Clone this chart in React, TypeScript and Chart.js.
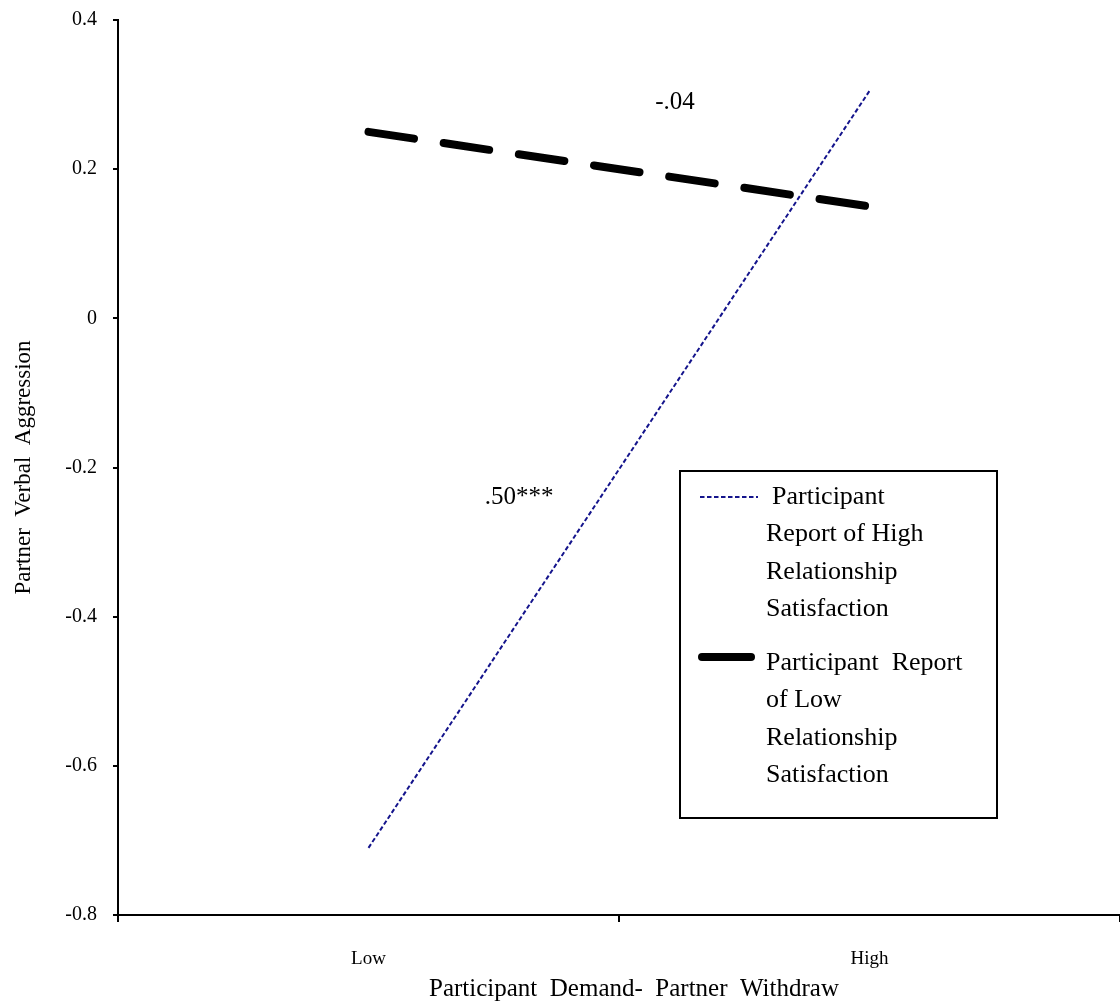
import React, { useEffect, useRef } from "react";
import { Chart, registerables } from "chart.js";

Chart.register(...registerables);

const categories = ["Low", "High"];
const highSatisfaction = [-0.71, 0.305];
const lowSatisfaction = [0.25, 0.15];
const highLabelLines = ["Participant", "Report of High", "Relationship", "Satisfaction"];
const lowLabelLines = ["Participant  Report", "of Low", "Relationship", "Satisfaction"];
const slopeLabels = ["-.04", ".50***"];
const yTitle = "Partner  Verbal  Aggression";
const xTitle = "Participant  Demand-  Partner  Withdraw";

const FONT = "'Liberation Serif', 'Times New Roman', serif";

const overlayPlugin = {
  id: "overlay",
  afterDraw(chart: any) {
    const ctx = chart.ctx;
    const xs = chart.scales.x;
    const ys = chart.scales.y;
    ctx.save();
    ctx.fillStyle = "#000";
    // x-axis title
    ctx.font = `25px ${FONT}`;
    ctx.textAlign = "center";
    ctx.textBaseline = "middle";
    ctx.fillText(xTitle, (xs.left + xs.right) / 2 + 15, 989);

    // slope annotations, anchored to data coordinates
    const xMid = (xs.getPixelForValue(0) + xs.getPixelForValue(1)) / 2;
    ctx.fillText(slopeLabels[0], xMid + 56, ys.getPixelForValue(0.29));
    ctx.fillText(slopeLabels[1], xMid - 100, ys.getPixelForValue(-0.24));

    // legend box
    const bx = 680, by = 471, bw = 317, bh = 347;
    ctx.strokeStyle = "#000";
    ctx.lineWidth = 2;
    ctx.strokeRect(bx, by, bw, bh);

    const ds0 = chart.data.datasets[0];
    const ds1 = chart.data.datasets[1];
    ctx.font = `26px ${FONT}`;
    ctx.textAlign = "left";
    ctx.textBaseline = "middle";
    const lh = 37.5;
    ctx.beginPath();
    ctx.setLineDash(ds0.borderDash);
    ctx.strokeStyle = ds0.borderColor;
    ctx.lineWidth = ds0.borderWidth;
    ctx.moveTo(700, 497);
    ctx.lineTo(758, 497);
    ctx.stroke();
    highLabelLines.forEach((t, i) => {
      ctx.fillText(t, i === 0 ? 772 : 766, 497 + i * lh);
    });
    ctx.beginPath();
    ctx.setLineDash([]);
    ctx.lineCap = "round";
    ctx.strokeStyle = ds1.borderColor;
    ctx.lineWidth = ds1.borderWidth;
    ctx.moveTo(702, 657);
    ctx.lineTo(751, 657);
    ctx.stroke();
    lowLabelLines.forEach((t, i) => {
      ctx.fillText(t, 766, 663 + i * lh);
    });
    ctx.restore();
  },
};

export default function App() {
  const ref = useRef<HTMLCanvasElement>(null);
  useEffect(() => {
    if (!ref.current) return;
    const chart = new Chart(ref.current, {
      type: "line",
      data: {
        labels: categories,
        datasets: [
          {
            label: "Participant Report of High Relationship Satisfaction",
            data: highSatisfaction,
            borderColor: "#14148c",
            borderWidth: 2,
            borderDash: [4.5, 2.5],
            pointRadius: 0,
            fill: false,
          },
          {
            label: "Participant Report of Low Relationship Satisfaction",
            data: lowSatisfaction,
            borderColor: "#000000",
            borderWidth: 8,
            borderDash: [46, 30],
            borderCapStyle: "round",
            pointRadius: 0,
            fill: false,
          },
        ],
      },
      options: {
        animation: false,
        responsive: false,
        layout: { padding: { top: 20, right: 0, left: 0, bottom: 0 } },
        plugins: { legend: { display: false }, tooltip: { enabled: false } },
        scales: {
          x: {
            type: "category",
            offset: true,
            grid: { offset: true, drawOnChartArea: false, drawTicks: true, tickLength: 7, color: "#000", lineWidth: 2 },
            border: { display: true, color: "#000", width: 2 },
            ticks: { color: "#000", font: { family: FONT, size: 19 }, padding: 26 },
            title: { display: false, text: xTitle },
            afterFit(scale: any) {
              scale.height = 91;
              scale.paddingLeft = 0;
              scale.paddingRight = 0;
            },
          },
          y: {
            min: -0.8,
            max: 0.4,
            ticks: {
              stepSize: 0.2,
              color: "#000",
              font: { family: FONT, size: 20 },
              padding: 16,
              callback: (v: any) => String(parseFloat(Number(v).toFixed(1))),
            },
            grid: { drawOnChartArea: false, drawTicks: true, tickLength: 5, color: "#000", lineWidth: 2 },
            border: { display: true, color: "#000", width: 2 },
            title: { display: true, text: yTitle, color: "#000", font: { family: FONT, size: 23 }, padding: { top: 10, bottom: 0 } },
            afterFit(scale: any) {
              scale.width = 118;
              scale.paddingTop = 0;
              scale.paddingBottom = 0;
            },
          },
        },
      },
      plugins: [overlayPlugin],
    });
    return () => chart.destroy();
  }, []);
  return (
    <div style={{ position: "fixed", left: 0, top: 0, width: 1120, height: 1006, background: "#fff" }}>
      <canvas ref={ref} width={1120} height={1006} style={{ display: "block" }} />
    </div>
  );
}
